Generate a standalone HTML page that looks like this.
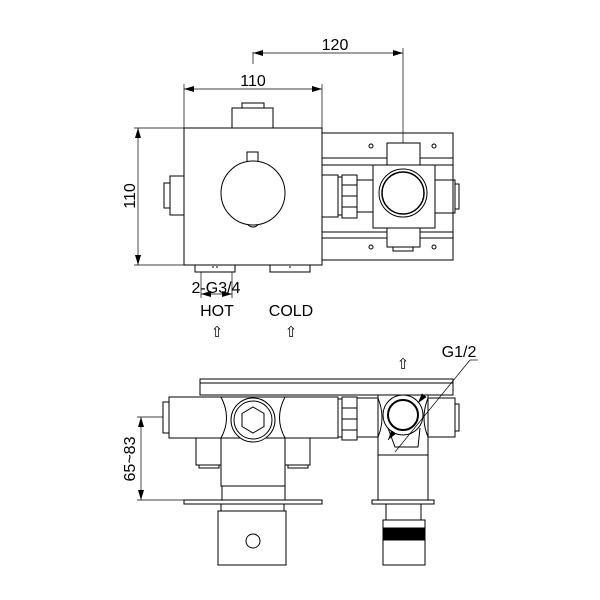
<!DOCTYPE html>
<html><head><style>body{margin:0;background:#fff}svg{display:block}text{font-family:"Liberation Sans",sans-serif;fill:#000}</style></head>
<body>
<svg width="600" height="600" viewBox="0 0 600 600" xmlns="http://www.w3.org/2000/svg">
<defs><marker id="a" viewBox="0 0 10 6" refX="10" refY="3" markerWidth="10" markerHeight="6" orient="auto-start-reverse" markerUnits="userSpaceOnUse"><path d="M0,0L10,3L0,6z" fill="#000"/></marker></defs>
<g fill="none" stroke="#000" stroke-width="1">
<line x1="253" y1="53" x2="403" y2="53" stroke-width="0.7" marker-start="url(#a)" marker-end="url(#a)"/>
<line x1="253" y1="52" x2="253" y2="64" stroke-width="0.7"/>
<line x1="403" y1="48" x2="403" y2="195" stroke-width="0.7"/>
<line x1="184" y1="89" x2="322" y2="89" stroke-width="0.7" marker-start="url(#a)" marker-end="url(#a)"/>
<line x1="184" y1="84" x2="184" y2="128" stroke-width="0.7"/>
<line x1="322" y1="84" x2="322" y2="128" stroke-width="0.7"/>
<line x1="138" y1="128" x2="138" y2="265" stroke-width="0.7" marker-start="url(#a)" marker-end="url(#a)"/>
<line x1="134" y1="128" x2="184" y2="128" stroke-width="0.7"/>
<line x1="134" y1="265" x2="184" y2="265" stroke-width="0.7"/>
<rect x="322" y="133" width="131" height="127"/>
<line x1="322" y1="158" x2="453" y2="158"/><line x1="322" y1="165" x2="453" y2="165"/>
<line x1="322" y1="232" x2="453" y2="232"/><line x1="322" y1="238" x2="453" y2="238"/>
<circle cx="371" cy="146" r="2"/><circle cx="434" cy="146" r="2"/><circle cx="371" cy="247" r="2"/><circle cx="434" cy="247" r="2"/>
<rect x="232" y="108" width="41" height="20" fill="#fff"/>
<rect x="242" y="103" width="22" height="5"/>
<rect x="184" y="128" width="138" height="137" fill="#fff"/>
<rect x="247" y="152" width="11" height="10"/>
<circle cx="253" cy="193" r="32" fill="#fff"/>
<path d="M248,225 Q253,229 258,225"/>
<rect x="170" y="176" width="14" height="39"/><rect x="164" y="183" width="6" height="25"/>
<rect x="322" y="175" width="16" height="42"/>
<rect x="195" y="265" width="40" height="7"/><rect x="270" y="265" width="40" height="7"/>
<line x1="213" y1="266" x2="213" y2="268"/><line x1="217" y1="266" x2="217" y2="268"/><line x1="290" y1="266" x2="290" y2="268"/>
<rect x="338" y="177" width="4" height="38"/>
<rect x="342" y="175" width="15" height="43" fill="#fff"/>
<line x1="342" y1="185" x2="357" y2="185"/><line x1="342" y1="196" x2="357" y2="196"/><line x1="342" y1="207" x2="357" y2="207"/>
<rect x="357" y="180" width="16" height="32" fill="#fff"/>
<rect x="387" y="143" width="33" height="22" fill="#fff"/>
<rect x="387" y="228" width="33" height="19" fill="#fff"/>
<rect x="393" y="247" width="20" height="4"/>
<rect x="373" y="165" width="62" height="63" fill="#fff"/>
<circle cx="403" cy="193" r="24"/><circle cx="403" cy="193" r="21" stroke-width="1.5"/>
<rect x="435" y="180" width="20" height="33"/><rect x="455" y="184" width="4" height="25"/>
<line x1="201" y1="272" x2="201" y2="298" stroke-width="0.7"/>
<line x1="232" y1="272" x2="232" y2="298" stroke-width="0.7"/>
<line x1="201" y1="294" x2="232" y2="294" stroke-width="0.7" marker-start="url(#a)" marker-end="url(#a)"/>

<rect x="200" y="379" width="253" height="16"/><line x1="200" y1="383" x2="453" y2="383"/>
<rect x="163" y="402" width="6" height="31"/>
<rect x="169" y="397" width="169" height="41" fill="#fff"/>
<rect x="196" y="438" width="25" height="27"/><rect x="285" y="438" width="25" height="27"/>
<path d="M199,465 v3 h20 v-3 M288,465 v3 h20 v-3"/>
<rect x="221" y="438" width="64" height="48" fill="#fff"/>
<path d="M221,397 Q232,418 221,438 M285,397 Q274,418 285,438" />
<circle cx="253" cy="420" r="22" fill="#fff"/><circle cx="253" cy="420" r="19"/>
<polygon points="253,407 264,413.5 264,426.5 253,433 242,426.5 242,413.5"/>
<line x1="221" y1="486" x2="285" y2="486"/>
<rect x="222" y="486" width="63" height="14"/>
<rect x="184" y="500" width="138" height="4"/>
<rect x="218" y="511" width="68" height="54"/>
<rect x="221" y="504" width="63" height="7"/>
<circle cx="253" cy="541" r="7"/>
<rect x="338" y="399" width="4" height="38"/>
<rect x="342" y="397" width="15" height="43" fill="#fff"/>
<line x1="342" y1="408" x2="357" y2="408"/><line x1="342" y1="419" x2="357" y2="419"/><line x1="342" y1="430" x2="357" y2="430"/>
<rect x="357" y="398" width="21" height="39"/><rect x="428" y="398" width="27" height="39"/>
<rect x="455" y="404" width="4" height="27"/>
<rect x="378" y="395" width="50" height="60" fill="#fff"/>
<path d="M378,398 Q386,418 378,437 M428,398 Q420,418 428,437"/>
<circle cx="403" cy="415" r="20"/><circle cx="403" cy="415" r="15" stroke-width="2"/>
<path d="M388,428 L395,447 L418,447 L420,428"/>
<rect x="378" y="455" width="50" height="45"/>
<rect x="372" y="500" width="62" height="4"/>
<rect x="386" y="504" width="35" height="16"/>
<rect x="383" y="520" width="42" height="45"/>
<rect x="383" y="528" width="42" height="12" fill="#000"/>
<line x1="470" y1="360" x2="395" y2="452" stroke-width="0.7"/>
<line x1="470" y1="360" x2="478" y2="360" stroke-width="0.7"/>
<line x1="422" y1="398" x2="418" y2="403" stroke-width="0.7" marker-end="url(#a)"/>
<line x1="393" y1="433" x2="388" y2="440" stroke-width="0.7" marker-end="url(#a)"/>
<line x1="141" y1="417" x2="141" y2="500" stroke-width="0.7" marker-start="url(#a)" marker-end="url(#a)"/>
<line x1="137" y1="417" x2="163" y2="417" stroke-width="0.7"/>
<line x1="137" y1="500" x2="184" y2="500" stroke-width="0.7"/>
</g>
<text x="335" y="50" font-size="16" text-anchor="middle">120</text>
<text x="253" y="86" font-size="16" text-anchor="middle">110</text>
<text transform="translate(135,196) rotate(-90)" font-size="16" text-anchor="middle">110</text>
<text x="216" y="293" font-size="16" text-anchor="middle">2-G3/4</text>
<text x="217" y="316" font-size="16" text-anchor="middle">HOT</text>
<text x="291" y="316" font-size="16" text-anchor="middle">COLD</text>
<text x="217" y="337" font-size="15" text-anchor="middle">⇧</text>
<text x="291" y="337" font-size="15" text-anchor="middle">⇧</text>
<text x="403" y="369" font-size="15" text-anchor="middle">⇧</text>
<text x="459" y="357" font-size="16" text-anchor="middle">G1/2</text>
<text transform="translate(135,459) rotate(-90)" font-size="16" text-anchor="middle">65~83</text>
</svg>
</body></html>
